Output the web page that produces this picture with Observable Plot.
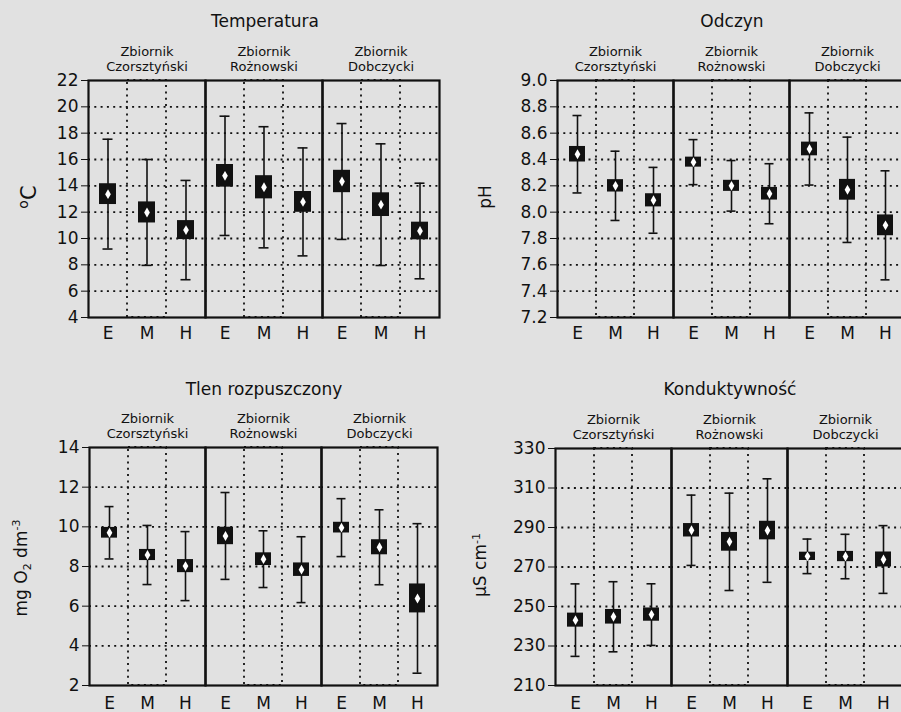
<!DOCTYPE html>
<html>
<head>
<meta charset="utf-8">
<script src="https://cdn.jsdelivr.net/npm/d3@7"></script>
<script src="https://cdn.jsdelivr.net/npm/@observablehq/plot@0.6"></script>
<style>
  html, body { margin: 0; padding: 0; overflow: hidden; background: #e1e1e1; }
  #root { position: relative; width: 901px; height: 712px; overflow: hidden; background: #e1e1e1; font-family: "DejaVu Sans", sans-serif; color: #111; }
  .panel { position: absolute; }
  .panel svg { max-width: none !important; }
  .title { position: absolute; transform: translate(-50%, -50%); font-size: 17px; white-space: nowrap; }
  .ylab { position: absolute; transform: translate(-50%, -50%) rotate(-90deg); white-space: nowrap; font-size: 17px; }
  sup, sub { font-size: 11px; }
</style>
</head>
<body>
<div id="root">
  <div class="title" style="left:265px; top:21px;">Temperatura</div>
  <div class="title" style="left:732px; top:21px;">Odczyn</div>
  <div class="title" style="left:264px; top:389px;">Tlen rozpuszczony</div>
  <div class="title" style="left:730px; top:389px;">Konduktywność</div>
  <div class="ylab" style="left:28px; top:197px; font-size:21px;"><sup style="font-size:14px">o</sup>C</div>
  <div class="ylab" style="left:485px; top:197px;">pH</div>
  <div class="ylab" style="left:22px; top:568px;">mg O<sub>2</sub> dm<sup>-3</sup></div>
  <div class="ylab" style="left:480px; top:565px;">µS cm<sup>-1</sup></div>
  <div class="panel" id="tl" style="left:0px; top:0px; width:450px;"></div>
  <div class="panel" id="tr" style="left:450px; top:0px; width:470px;"></div>
  <div class="panel" id="bl" style="left:0px; top:356px; width:450px;"></div>
  <div class="panel" id="br" style="left:450px; top:356px; width:470px;"></div>
</div>
<script>
// Categories
const reservoirs = ["Czorsztyński", "Rożnowski", "Dobczycki"];
const categories = ["E", "M", "H"];

// Temperatura (°C): mean, SE (box half-height), SD (whisker half-length); order: reservoir × E,M,H
const tempMean = [13.37, 11.98, 10.64, 14.76, 13.89, 12.78, 14.33, 12.57, 10.57];
const tempSE   = [0.79, 0.80, 0.72, 0.86, 0.88, 0.79, 0.85, 0.90, 0.67];
const tempSD   = [4.17, 4.02, 3.77, 4.53, 4.60, 4.10, 4.40, 4.62, 3.63];
const tempTicks = [4, 6, 8, 10, 12, 14, 16, 18, 20, 22];

// Odczyn (pH)
const phMean = [8.44, 8.20, 8.09, 8.38, 8.20, 8.14, 8.48, 8.17, 7.90];
const phSE   = [0.059, 0.047, 0.050, 0.038, 0.042, 0.048, 0.052, 0.079, 0.079];
const phSD   = [0.294, 0.263, 0.250, 0.171, 0.192, 0.228, 0.274, 0.400, 0.414];
const phTicks = [7.2, 7.4, 7.6, 7.8, 8.0, 8.2, 8.4, 8.6, 8.8, 9.0];

// Tlen rozpuszczony (mg O2 dm-3)
const o2Mean = [9.70, 8.58, 8.02, 9.54, 8.37, 7.84, 9.96, 8.97, 6.39];
const o2SE   = [0.27, 0.28, 0.33, 0.44, 0.32, 0.34, 0.27, 0.38, 0.73];
const o2SD   = [1.32, 1.49, 1.74, 2.19, 1.43, 1.66, 1.46, 1.89, 3.77];
const o2Ticks = [2, 4, 6, 8, 10, 12, 14];

// Konduktywność (µS cm-1)
const condMean = [243.1, 244.8, 245.9, 288.6, 282.75, 288.45, 275.4, 275.3, 273.8];
const condSE   = [3.55, 3.70, 3.35, 3.40, 4.75, 4.70, 2.10, 2.60, 3.80];
const condSD   = [18.35, 17.75, 15.6, 17.8, 24.65, 26.2, 8.75, 11.25, 17.15];
const condTicks = [210, 230, 250, 270, 290, 310, 330];

function panel(o) {
  const rows = [];
  reservoirs.forEach((r, i) => categories.forEach((c, j) => {
    const k = i * 3 + j;
    rows.push({res: r, cat: c, mean: o.means[k], se: o.ses[k], sd: o.sds[k]});
  }));
  const dom = [o.ticks[0], o.ticks[o.ticks.length - 1]];
  const dash = "2,4.3";
  return Plot.plot({
    width: o.width, height: o.height,
    marginLeft: o.ml, marginRight: o.mr, marginTop: o.mt, marginBottom: o.mb,
    style: {background: "transparent", fontFamily: "DejaVu Sans, sans-serif", fontSize: "17px", color: "#111", overflow: "visible", maxWidth: "none"},
    fx: {domain: reservoirs, padding: 0, axis: null},
    x: {domain: categories, padding: 0, label: null, tickSize: 0, tickPadding: o.xpad},
    y: {domain: dom, ticks: o.ticks, tickFormat: o.fmt, tickSize: 7, tickPadding: 3, label: null},
    marks: [
      Plot.ruleY(o.ticks.slice(1, -1), {stroke: "#111", strokeWidth: 1.8, strokeDasharray: dash}),
      Plot.barY(["M"], {x: d => d, y1: dom[0], y2: dom[1], fill: "none", stroke: "#111", strokeWidth: 1.8, strokeDasharray: dash}),
      Plot.ruleX(rows, {fx: "res", x: "cat", y1: d => d.mean - d.sd, y2: d => d.mean + d.sd, stroke: "#111", strokeWidth: 1.6}),
      Plot.tickY(rows, {fx: "res", x: "cat", y: d => d.mean + d.sd, insetLeft: 14.5, insetRight: 14.5, stroke: "#111", strokeWidth: 1.6}),
      Plot.tickY(rows, {fx: "res", x: "cat", y: d => d.mean - d.sd, insetLeft: 14.5, insetRight: 14.5, stroke: "#111", strokeWidth: 1.6}),
      Plot.barY(rows, {fx: "res", x: "cat", y1: d => d.mean - d.se, y2: d => d.mean + d.se, fill: "#111", insetLeft: 11, insetRight: 11}),
      Plot.dot(rows, {fx: "res", x: "cat", y: "mean", symbol: "diamond", fill: "white", r: 3.0}),
      Plot.frame({stroke: "#111", strokeWidth: 2.2}),
      Plot.text(reservoirs, {fx: d => d, text: d => "Zbiornik\n" + d, frameAnchor: "top", dy: -10, lineAnchor: "bottom", fontSize: 13, lineHeight: 1.15, fill: "#111"})
    ]
  });
}

const f0 = d3.format("d");
const f1 = d3.format(".1f");

document.getElementById("tl").append(panel({
  means: tempMean, ses: tempSE, sds: tempSD, ticks: tempTicks, fmt: f0,
  width: 450, height: 350, ml: 88, mr: 11, mt: 80, mb: 33, xpad: 9
}));
document.getElementById("tr").append(panel({
  means: phMean, ses: phSE, sds: phSD, ticks: phTicks, fmt: f1,
  width: 470, height: 350, ml: 106, mr: 14.5, mt: 80, mb: 33, xpad: 9
}));
document.getElementById("bl").append(panel({
  means: o2Mean, ses: o2SE, sds: o2SD, ticks: o2Ticks, fmt: f0,
  width: 450, height: 356, ml: 88, mr: 12, mt: 91, mb: 27, xpad: 11
}));
document.getElementById("br").append(panel({
  means: condMean, ses: condSE, sds: condSD, ticks: condTicks, fmt: f0,
  width: 470, height: 356, ml: 104, mr: 17, mt: 92, mb: 27, xpad: 11
}));
</script>
</body>
</html>
